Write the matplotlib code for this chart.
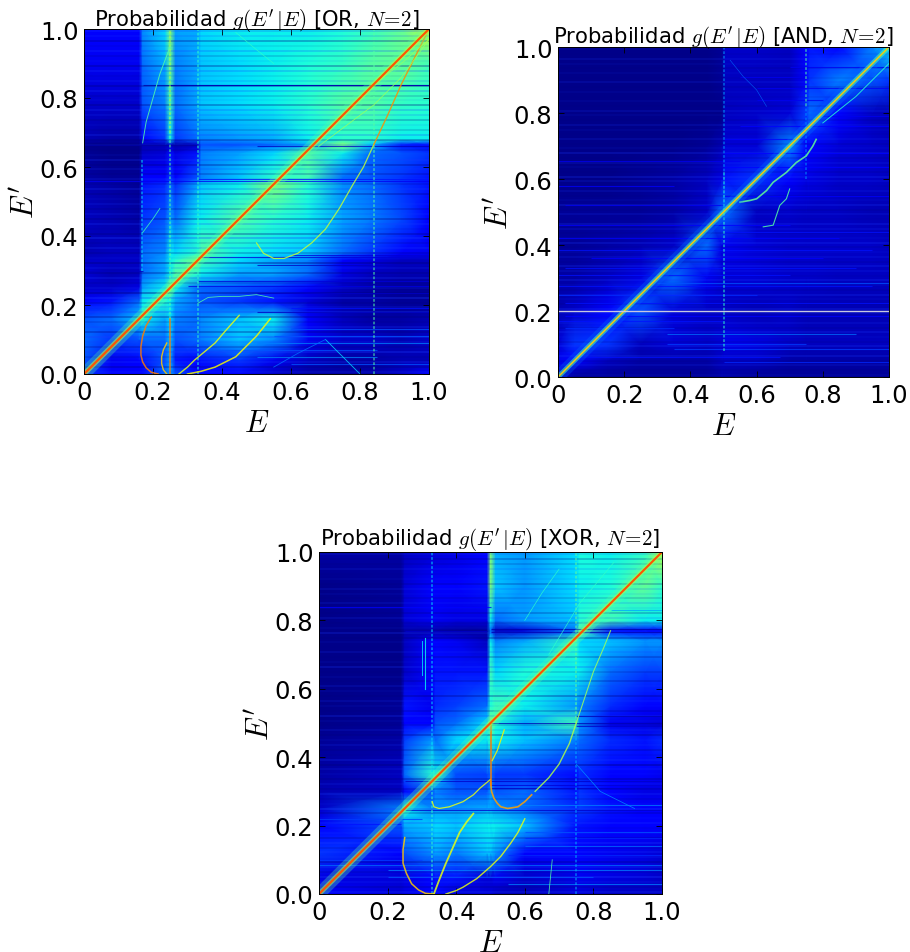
import matplotlib
matplotlib.use('Agg')
import matplotlib.pyplot as plt
import numpy as np

plt.rcParams['mathtext.fontset'] = 'cm'

# ---------- OR ----------
or_x = [0, .08, .16, .17, .235, .25, .265, .33, .34, .45, .55, .65, .75, .83, .92, 1]
or_y = [0, .04, .1, .16, .21, .25, .29, .33, .35, .45, .55, .57, .64, .665, .68, .78, .9, 1]
or_z = [
    [.25, .2, .2, .2, .3, .35, .28, .2, .2, .2, .15, .12, .12, .12, .15, .2],
    [.28, .18, .2, .22, .28, .35, .22, .2, .22, .25, .18, .14, .12, .12, .13, .13],
    [.3, .25, .28, .3, .3, .38, .28, .3, .32, .38, .33, .18, .15, .15, .13, .15],
    [.28, .3, .38, .42, .35, .4, .32, .3, .33, .38, .42, .2, .14, .12, .12, .13],
    [.2, .22, .3, .42, .45, .42, .35, .3, .28, .25, .22, .16, .12, .12, .11, .11],
    [.15, .15, .17, .35, .42, .55, .42, .3, .3, .28, .25, .2, .14, .12, .11, .11],
    [.16, .13, .14, .3, .35, .42, .5, .45, .42, .35, .35, .3, .17, .14, .13, .13],
    [.15, .15, .15, .3, .35, .42, .45, .55, .48, .4, .35, .32, .2, .17, .14, .14],
    [.13, .14, .14, .3, .33, .42, .4, .45, .5, .42, .4, .38, .3, .25, .2, .18],
    [.14, .13, .12, .25, .28, .35, .3, .42, .42, .5, .45, .42, .35, .32, .27, .2],
    [.13, .12, .11, .22, .24, .3, .24, .35, .38, .42, .55, .45, .33, .3, .25, .22],
    [.12, .11, .11, .2, .2, .25, .2, .28, .32, .38, .45, .48, .3, .28, .25, .22],
    [.11, .1, .1, .15, .16, .22, .17, .22, .32, .35, .4, .5, .42, .3, .28, .25],
    [.1, .1, .1, .13, .13, .15, .12, .14, .28, .28, .3, .35, .55, .38, .22, .2],
    [.13, .12, .12, .2, .25, .42, .25, .3, .32, .34, .36, .42, .45, .45, .42, .42],
    [.15, .15, .15, .28, .32, .48, .3, .35, .38, .4, .42, .45, .5, .5, .46, .45],
    [.18, .18, .18, .3, .36, .52, .32, .35, .38, .4, .42, .44, .46, .5, .52, .48],
    [.2, .2, .2, .33, .4, .55, .35, .36, .4, .42, .42, .42, .44, .47, .52, .62],
]
or_curves = [
    ([.195, .18, .17, .165, .165, .17, .18, .195, .215], [.165, .14, .11, .08, .055, .035, .018, .005, 0], .8, 1.1),
    ([.24, .23, .225, .225, .23, .24], [.09, .07, .05, .03, .012, 0], .72, 1.0),
    ([.25, .25], [0, .16], .8, 1.1),
    ([.275, .3, .32, .35, .38, .41, .45], [0, .02, .04, .065, .09, .125, .17], .66, 1.0),
    ([.3, .34, .38, .41, .44, .47, .5, .52, .54], [0, .008, .02, .035, .05, .08, .11, .135, .16], .68, 1.1),
    ([.5, .52, .55, .58, .62, .66, .7, .74, .78, .81, .84], [.38, .35, .335, .335, .35, .38, .42, .48, .55, .6, .665], .62, .9),
    ([.84, .88, .92, .96, 1], [.665, .75, .84, .92, 1], .78, 1.0),
    ([.68, .76, .84, .92, 1], [.66, .72, .78, .86, .97], .58, .6),
    ([.84, .92, 1], [.84, .9, .97], .6, .6),
    ([.17, .18, .2, .22, .25], [.67, .73, .8, .87, .95], .5, .7),
    ([.17, .2, .22], [.41, .45, .48], .48, .6),
    ([.33, .36, .4, .45, .5, .55], [.205, .222, .225, .225, .23, .22], .5, .6),
    ([.7, .74, .78, .8], [.1, .06, .02, 0], .4, .6),
    ([.44, .5, .55], [.99, .94, .9], .46, .5),
    ([.55, .62, .7], [.02, .06, .1], .3, .6),
]
or_vert_x = [.25, .25, .33, .84, .167]
or_vert_y0 = [.16, .7, 0, 0, .3]
or_vert_y1 = [.7, 1, 1, 1, .62]
or_vert_v = [.5, .6, .46, .5, .4]
or_streak_y = [.838, .838, .56, .565, .665, .66, .34, .345, .27, .255, .235, .19, .18, .3, .315,
               .13, .11, .09, .07, .05, .03]
or_streak_a = [.17, .25, 0, .33, 0, .5, .33, .6, .33, .3, .5, .6, .5, 0, .5,
               .6, .55, .5, .35, .5, .6]
or_streak_b = [1, 1, 1, 1, .33, 1, 1, 1, 1, 1, 1, 1, 1, .17, 1,
               1, 1, 1, .85, .85, 1]
or_streak_v = [.12, .13, .18, .22, .12, .14, .16, .16, .16, .17, .15, .22, .14, .14, .14,
               .28, .28, .32, .28, .32, .28]
# brightness of each horizontal line of the picture, bottom to top (- darker, + lighter)
or_rows = [.1, -.2, .15, -.1, .2, -.15, .1, .2, -.2, .15, -.1, -.2, .2, .1, -.15, .2, -.25, .1, -.1, .15,
           -.2, .1, -.25, .05, -.15, .15, -.1, .2, -.2, -.05, .15, -.2, .1, -.15, .1, .05, -.2, .15, -.1, .1,
           -.15, .1, -.2, .15, .05, -.1, .1, -.2, .15, -.1, .05, -.15, .1, .15, -.2, .05, -.1, .15, -.2, .1,
           -.05, .15, -.2, .05, -.1, .15, -.05, -.2, .1, .15]

# ---------- AND ----------
and_x = [0, .05, .15, .25, .35, .45, .495, .505, .6, .7, .75, .76, .85, .95, 1]
and_y = [0, .05, .1, .2, .3, .4, .5, .6, .7, .8, .9, 1]
and_z = [
    [.16, .11, .11, .11, .11, .11, .12, .12, .11, .11, .11, .11, .11, .11, .11],
    [.18, .2, .14, .12, .12, .12, .14, .14, .14, .12, .12, .12, .12, .12, .12],
    [.16, .25, .25, .14, .16, .15, .16, .18, .17, .15, .14, .14, .14, .14, .14],
    [.13, .15, .2, .28, .16, .14, .14, .14, .13, .14, .13, .13, .13, .13, .13],
    [.12, .12, .14, .17, .3, .18, .16, .16, .16, .15, .15, .15, .14, .14, .14],
    [.11, .11, .12, .13, .15, .3, .17, .18, .16, .15, .15, .15, .15, .15, .14],
    [.11, .11, .11, .11, .12, .15, .3, .3, .14, .15, .14, .14, .14, .13, .13],
    [.1, .1, .1, .11, .12, .14, .17, .22, .25, .2, .17, .17, .15, .15, .14],
    [.1, .1, .1, .1, .1, .11, .13, .16, .16, .33, .2, .2, .16, .15, .14],
    [.1, .1, .1, .1, .1, .1, .1, .14, .15, .16, .26, .3, .2, .14, .13],
    [.1, .1, .1, .1, .1, .1, .11, .14, .14, .14, .2, .25, .32, .28, .25],
    [.1, .1, .1, .1, .1, .1, .11, .15, .15, .14, .2, .22, .2, .32, .42],
]
and_curves = [
    ([.55, .58, .6, .63, .65, .69, .72, .75, .77, .78], [.53, .535, .54, .565, .59, .62, .65, .67, .7, .72], .52, 1.2),
    ([.62, .65, .66, .67, .69, .7], [.455, .46, .49, .52, .54, .57], .5, .8),
    ([.8, .85, .9, .95, 1], [.77, .81, .85, .9, .95], .45, .7),
    ([.52, .56, .6, .63], [.96, .91, .87, .82], .3, .4),
]
and_vert_x = [.5, .75, .5, .75]
and_vert_y0 = [.08, .82, .5, .6]
and_vert_y1 = [.62, 1, 1, .82]
and_vert_v = [.46, .5, .34, .33]
and_streak_y = [.13, .1, .085, .06, .045, .15, .17, .185, .225, .25, .275, .285, .31, .33, .36, .385, .42, .44, .46,
                .52, .55, .58, .635, .655, .68, .72, .76, .79, .84, .875, .91, .94]
and_streak_a = [.33, .33, .35, .05, .5, .02, .0, .02, .02, .0, .0, .3, .0, .02, .1, .0, .0, .5, .0,
                .02, .5, .0, .5, .0, .5, .5, .55, .8, .6, .6, .55, .7]
and_streak_b = [.9, .75, 1, .67, 1, .35, .5, 1, 1, .6, .95, 1, .7, .9, .8, .95, .85, 1, .7,
                .5, 1, .35, 1, .55, 1, .75, 1, 1, .8, 1, .75, 1]
and_streak_v = [.3, .26, .26, .22, .24, .24, .22, .2, .22, .24, .22, .28, .22, .22, .2, .22, .2, .22, .2,
                .18, .2, .2, .2, .18, .2, .2, .2, .18, .18, .18, .18, .18]
and_rows = [.05, -.1, .1, -.1, .15, -.05, .15, -.1, .05, .15, -.1, .1, -.05, .1, .15, -.1, .05, .15, -.1, .05,
            .15, -.05, .1, .15, -.1, .1, .05, -.1, .15, .05, -.1, .1, .15, -.05, .1, -.1, .15, .05, -.1, .1,
            -.05, .1, .15, -.1, .05, .1, -.1, .15, .05, -.1, .1, -.05, .05, .1, -.1, .05, .1, -.1, .05, -.05,
            .05, -.1, .1, -.05, .05, -.1, .05, .1, -.05, .05]

# ---------- XOR ----------
xor_x = [0, .24, .25, .33, .34, .4, .49, .5, .515, .6, .75, .76, .85, .95, 1]
xor_y = [0, .05, .12, .2, .25, .3, .35, .45, .5, .55, .65, .74, .77, .8, .9, 1]
xor_z = [
    [.2, .16, .17, .2, .2, .16, .16, .16, .14, .13, .16, .16, .14, .14, .14],
    [.17, .16, .17, .2, .22, .22, .16, .16, .18, .15, .17, .18, .17, .16, .15],
    [.25, .2, .28, .33, .35, .32, .38, .38, .34, .2, .2, .2, .18, .17, .16],
    [.2, .28, .36, .38, .4, .38, .42, .42, .42, .38, .22, .22, .2, .2, .2],
    [.15, .32, .42, .33, .34, .34, .36, .36, .34, .3, .24, .26, .22, .2, .2],
    [.13, .14, .2, .28, .32, .28, .28, .34, .28, .3, .22, .25, .2, .17, .17],
    [.12, .14, .3, .45, .42, .27, .26, .3, .25, .25, .21, .24, .2, .2, .18],
    [.11, .12, .26, .34, .3, .4, .42, .46, .42, .38, .32, .3, .24, .22, .24],
    [.1, .11, .2, .2, .28, .3, .4, .55, .44, .36, .48, .34, .18, .17, .16],
    [.1, .11, .22, .18, .24, .26, .3, .44, .48, .42, .34, .32, .24, .2, .2],
    [.1, .1, .15, .2, .22, .22, .22, .48, .4, .44, .42, .42, .3, .26, .26],
    [.1, .1, .14, .2, .2, .18, .14, .42, .32, .36, .46, .4, .38, .34, .34],
    [.1, .1, .12, .12, .12, .11, .11, .3, .14, .16, .3, .5, .22, .2, .2],
    [.1, .11, .16, .18, .18, .17, .17, .42, .3, .34, .38, .45, .48, .42, .42],
    [.1, .11, .16, .2, .2, .2, .22, .55, .38, .34, .4, .42, .44, .52, .46],
    [.12, .12, .14, .16, .16, .17, .2, .55, .36, .34, .4, .44, .42, .46, .62],
]
xor_curves = [
    ([.25, .245, .245, .255, .27, .29, .31, .335], [.165, .13, .09, .06, .03, .012, .002, 0], .72, 1.1),
    ([.335, .35, .37, .39, .41, .43, .45], [0, .04, .09, .135, .18, .21, .235], .66, 1.3),
    ([.37, .4, .42, .46, .5, .53, .56, .58, .6], [0, .01, .02, .045, .08, .11, .15, .18, .22], .66, 1.0),
    ([.33, .335, .35, .38, .42, .45, .47, .5], [.27, .255, .25, .255, .27, .29, .31, .335], .66, .9),
    ([.5, .503, .51, .52, .53, .55, .58, .6, .62], [.33, .3, .28, .265, .255, .25, .255, .27, .29], .76, 1.2),
    ([.5, .5], [.32, .5], .8, 1.2),
    ([.505, .52, .53, .54], [.39, .42, .45, .48], .68, .9),
    ([.63, .67, .7, .73, .75], [.3, .34, .38, .44, .5], .6, 1.0),
    ([.75, .78, .8, .83, .85], [.5, .59, .65, .72, .77], .58, .8),
    ([.31, .31], [.6, .75], .42, .8),
    ([.3, .3], [.64, .74], .4, .7),
    ([.6, .65, .7], [.8, .88, .95], .46, .5),
    ([.67, .675, .68], [0, .05, .1], .5, .6),
    ([.67, .76, .86], [.7, .85, .97], .46, .5),
    ([.75, .82, .92], [.38, .3, .25], .34, .5),
]
xor_vert_x = [.33, .33, .75, .75]
xor_vert_y0 = [0, .33, 0, .5]
xor_vert_y1 = [.33, 1, .5, 1]
xor_vert_v = [.46, .4, .36, .52]
xor_streak_y = [.765, .775, .77, .83, .84, .5, .52, .49, .26, .245, .33, .32, .31, .22, .205, .18, .165, .14, .115, .1, .085,
                .07, .05, .03]
xor_streak_a = [.5, .5, .25, .85, 0, .5, .75, .75, .55, .25, .25, .5, .5, 0, .02, .6, .6, .6, .55, 0, 0,
                .2, .2, .55]
xor_streak_b = [1, 1, .49, 1, .5, 1, 1, 1, 1, 1, 1, 1, 1, .3, .24, 1, 1, 1, 1, .3, 1,
                1, .8, 1]
xor_streak_v = [.13, .12, .15, .35, .2, .13, .13, .15, .32, .15, .15, .16, .15, .26, .22, .28, .24, .3, .24, .26, .3,
                .32, .28, .32]
xor_rows = [.15, -.15, .1, .2, -.1, .15, -.2, .1, .15, -.1, .2, -.15, .1, -.05, .15, .05, -.15, .2, .05, -.1,
            .15, -.15, .1, -.2, .05, .1, -.25, .15, -.05, -.15, .1, .05, -.2, .1, -.1, .05, .15, -.15, .05, .1,
            -.2, .05, .1, -.15, .05, -.1, .15, .05, -.15, .1, -.05, .05, -.2, .15, .05, -.1, .1, -.15, .05, .1,
            -.1, .05, .1, -.15, .05, -.05, .1, -.1, -.15, .1]

# axes rectangles, in pixels: left, right, top, bottom
W, H = 910, 953
or_box = (84, 429, 30, 375)
and_box = (558, 889, 48, 378)
xor_box = (319, 662, 553, 895)

cmap = matplotlib.colormaps['jet']
norm = matplotlib.colors.Normalize(vmin=.09, vmax=1)


def jet(v):
    return cmap(norm(v))


def draw_panel(fig, box, name, xs, ys, zs, rows, curves, vx, vy0, vy1, vv, sy, sa, sb, sv, glow, pad):
    l, r, t, b = box
    ax = fig.add_axes([l / W, 1 - b / H, (r - l) / W, (b - t) / H])
    ax.pcolormesh(xs, ys, np.array(zs), cmap=cmap, norm=norm, shading='gouraud')
    n = len(rows)
    for i, d in enumerate(rows):
        y = (i + .5) / n
        ax.plot([0, 1], [y, y], color='#1a3cff' if d > 0 else '#000080', lw=1.3, alpha=abs(d) * 1.6,
                solid_capstyle='butt')
    for y, a, e, v in zip(sy, sa, sb, sv):
        ax.plot([a, e], [y, y], color=jet(v), lw=.8, alpha=.75, solid_capstyle='butt')
    for x, y0, y1, v in zip(vx, vy0, vy1, vv):
        ax.plot([x, x], [y0, y1], color=jet(v), lw=1.3, alpha=.55, ls=(0, (1.5, 1)), solid_capstyle='butt')
    for cx, cy, v, w in curves:
        ax.plot(cx, cy, color=jet(v), lw=w, alpha=.85)
    # band around the diagonal
    ax.plot([0, 1], [0, 1], color=jet(glow[0]), lw=9, alpha=.3, solid_capstyle='butt')
    ax.plot([0, 1], [0, 1], color=jet(glow[1]), lw=3.5, alpha=.55, solid_capstyle='butt')
    ax.plot([0, 1], [0, 1], color=jet(glow[2]), lw=glow[3], solid_capstyle='butt')
    ax.set_xlim(0, 1)
    ax.set_ylim(0, 1)
    ax.set_xticks([0, .2, .4, .6, .8, 1])
    ax.set_xticklabels(['0', '0.2', '0.4', '0.6', '0.8', '1.0'])
    ax.set_yticks([0, .2, .4, .6, .8, 1])
    ax.set_yticklabels(['0.0', '0.2', '0.4', '0.6', '0.8', '1.0'])
    ax.tick_params(direction='in', top=True, right=True, labelsize=17.5, length=4, width=.6, pad=4)
    for s in ax.spines.values():
        s.set_linewidth(.7)
    ax.set_xlabel(r'$E$', fontsize=22, labelpad=3)
    ax.set_ylabel(r"$E'$", fontsize=22, labelpad=0)
    ax.set_title(r"Probabilidad $g(E'\,|E)$ [" + name + r", $N\!=\!2$]", fontsize=15.2, pad=pad)
    return ax


fig = plt.figure(figsize=(9.1, 9.53), dpi=100)
draw_panel(fig, or_box, 'OR', or_x, or_y, or_z, or_rows, or_curves, or_vert_x, or_vert_y0, or_vert_y1, or_vert_v,
           or_streak_y, or_streak_a, or_streak_b, or_streak_v, (.5, .62, .84, 1.5), 2)
ax2 = draw_panel(fig, and_box, 'AND', and_x, and_y, and_z, and_rows, and_curves, and_vert_x, and_vert_y0, and_vert_y1,
                 and_vert_v, and_streak_y, and_streak_a, and_streak_b, and_streak_v, (.3, .5, .72, 1.0), 3)
ax2.axhline(.2, color='#c8c8e0', lw=1)
draw_panel(fig, xor_box, 'XOR', xor_x, xor_y, xor_z, xor_rows, xor_curves, xor_vert_x, xor_vert_y0, xor_vert_y1,
           xor_vert_v, xor_streak_y, xor_streak_a, xor_streak_b, xor_streak_v, (.5, .6, .84, 1.5), 5)
fig.savefig('out.png', dpi=100)
